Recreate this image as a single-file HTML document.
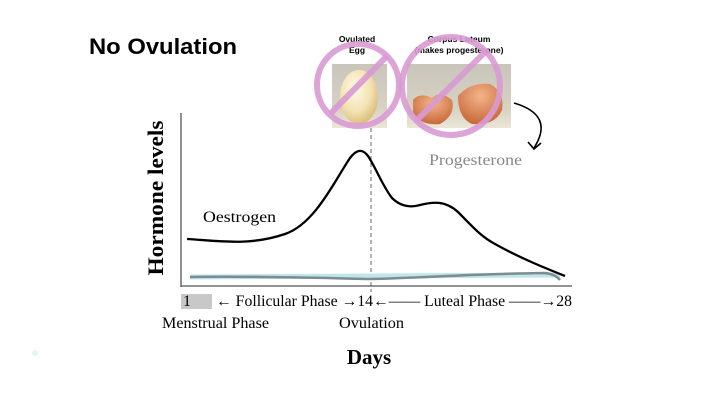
<!DOCTYPE html>
<html><head><meta charset="utf-8"><style>
body{margin:0;background:#fff;}
svg{display:block;}
</style></head><body>
<svg width="725" height="416" viewBox="0 0 725 416" xmlns="http://www.w3.org/2000/svg">
<rect width="725" height="416" fill="#fff"/>
<text x="89" y="54" font-family="Liberation Sans, sans-serif" font-weight="bold" font-size="22" textLength="148" lengthAdjust="spacingAndGlyphs" fill="#000">No Ovulation</text>
<text x="357" y="42" text-anchor="middle" font-family="Liberation Sans, sans-serif" font-weight="bold" font-size="8.5">Ovulated</text>
<text x="357" y="53" text-anchor="middle" font-family="Liberation Sans, sans-serif" font-weight="bold" font-size="8.5">Egg</text>
<text x="459" y="42" text-anchor="middle" font-family="Liberation Sans, sans-serif" font-weight="bold" font-size="8.5">Corpus Luteum</text>
<text x="459" y="53" text-anchor="middle" font-family="Liberation Sans, sans-serif" font-weight="bold" font-size="8.5">(makes progesterone)</text>
<defs>
<linearGradient id="bg1" x1="0" y1="0" x2="0" y2="1"><stop offset="0" stop-color="#c9c5bb"/><stop offset="0.7" stop-color="#d8d2c4"/><stop offset="1" stop-color="#ece6d8"/></linearGradient>
<radialGradient id="egg" cx="0.4" cy="0.35" r="0.7"><stop offset="0" stop-color="#fffbea"/><stop offset="0.6" stop-color="#f3e2b0"/><stop offset="1" stop-color="#d8b877"/></radialGradient>
<radialGradient id="shell" cx="0.5" cy="0.3" r="0.7"><stop offset="0" stop-color="#f3b488"/><stop offset="1" stop-color="#c8683a"/></radialGradient>
</defs>
<rect x="332" y="64" width="55" height="64" fill="url(#bg1)"/>
<ellipse cx="359" cy="97" rx="19" ry="27" fill="url(#egg)"/>
<rect x="407" y="64" width="104" height="64" fill="url(#bg1)"/>
<path d="M413 100 Q420 92 432 98 Q440 90 452 100 Q456 115 440 124 Q420 126 413 112Z" fill="url(#shell)"/>
<path d="M458 96 Q470 82 490 84 Q505 92 502 110 Q495 126 472 124 Q458 118 458 96Z" fill="url(#shell)"/>
<circle cx="358" cy="85" r="41" fill="none" stroke="#d99ad4" stroke-width="6" opacity="0.9"/>
<line x1="330" y1="114" x2="387" y2="56" stroke="#d99ad4" stroke-width="6" opacity="0.9"/>
<circle cx="451" cy="86" r="49" fill="none" stroke="#d99ad4" stroke-width="6" opacity="0.9"/>
<line x1="416" y1="121" x2="486" y2="51" stroke="#d99ad4" stroke-width="6" opacity="0.9"/>
<path d="M514 103 Q555 115 534 148" fill="none" stroke="#000" stroke-width="1.6"/>
<path d="M528 142 L534 149 L541 143" fill="none" stroke="#000" stroke-width="1.6"/>
<text x="429" y="165" font-family="Liberation Serif, serif" font-size="16" textLength="93" lengthAdjust="spacingAndGlyphs" fill="#888">Progesterone</text>
<line x1="181" y1="113" x2="181" y2="287" stroke="#555" stroke-width="1.3"/>
<line x1="181" y1="286" x2="572" y2="286" stroke="#555" stroke-width="1.3"/>
<line x1="371" y1="128" x2="371" y2="292" stroke="#444" stroke-width="0.8" stroke-dasharray="4,3"/>
<text transform="translate(163,198) rotate(-90)" text-anchor="middle" font-family="Liberation Serif, serif" font-weight="bold" font-size="22" textLength="155" lengthAdjust="spacingAndGlyphs">Hormone levels</text>
<text x="203" y="222" font-family="Liberation Serif, serif" font-size="16" textLength="73" lengthAdjust="spacingAndGlyphs">Oestrogen</text>
<path d="M190 277 L560 275" stroke="#bfe6ea" stroke-width="5" fill="none"/>
<path d="M190 277 C260 276 320 278 371 279 C420 278 470 274 545 273 Q555 274 560 280" stroke="#7b8d90" stroke-width="2.5" fill="none"/>
<path d="M187 239 C220 241 250 246 285 234 C315 224 335 180 350 158 C356 150 362 148 368 156 C376 168 382 185 392 198 C400 206 410 208 420 205 C432 202 445 200 458 212 C470 224 480 236 495 244 C520 258 545 268 565 276" stroke="#000" stroke-width="2.3" fill="none"/>
<rect x="181" y="294" width="31" height="15" fill="#c8c8c8"/>
<text x="183" y="306" font-family="Liberation Serif, serif" font-size="16">1</text>
<text x="216" y="306" font-family="Liberation Serif, serif" font-size="16" textLength="356" lengthAdjust="spacingAndGlyphs">← Follicular Phase →14←—— Luteal Phase ——→28</text>
<text x="162" y="328" font-family="Liberation Serif, serif" font-size="16" textLength="107" lengthAdjust="spacingAndGlyphs">Menstrual Phase</text>
<text x="339" y="328" font-family="Liberation Serif, serif" font-size="16" textLength="65" lengthAdjust="spacingAndGlyphs">Ovulation</text>
<text x="369" y="364" text-anchor="middle" font-family="Liberation Serif, serif" font-weight="bold" font-size="21">Days</text>
<circle cx="35" cy="353" r="3" fill="#e3f4f7"/>
</svg>
</body></html>
